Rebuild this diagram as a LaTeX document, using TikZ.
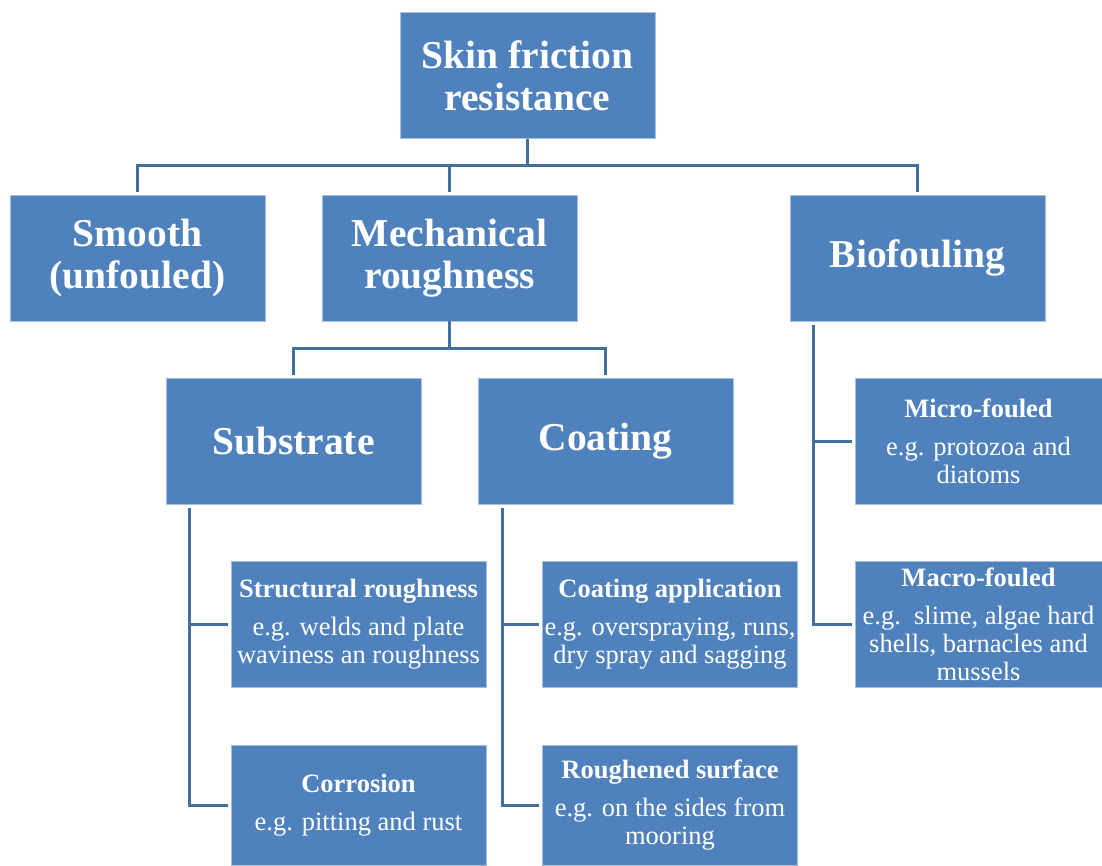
\documentclass[tikz,border=0pt]{standalone}
\usepackage{fontspec}
\setmainfont{Liberation Serif}
\definecolor{boxblue}{HTML}{4F81BD}
\definecolor{boxedge}{HTML}{A7BFDE}
\definecolor{linkblue}{HTML}{41719C}
\begin{document}
\begin{tikzpicture}[x=1pt,y=-1pt,
  box/.style={fill=boxblue,draw=boxedge,line width=0.8pt,text=white,align=center,inner sep=0pt,minimum width=255pt,minimum height=126pt},
  big/.style={box,font=\bfseries\fontsize{39.5}{42}\selectfont},
  small/.style={box,font=\fontsize{26.5}{28}\selectfont},
  link/.style={draw=linkblue,line width=3pt}]
\useasboundingbox (0,0) rectangle (1102,865);
\fill[white] (0,0) rectangle (1102,865);
% level 0
\node[big] (root) at (527.5,75.5) {Skin friction\\resistance};
% level 1
\node[big] (smooth) at (137.5,258) {Smooth\\(unfouled)};
\node[big] (mech) at (449.5,258) {Mechanical\\roughness};
\node[big] (bio) at (917.5,258) {Biofouling};
% level 2
\node[big] (sub) at (293.5,441) {Substrate};
\node[big] (coat) at (605.5,441) {Coating};
% leaves
\node[small,minimum width=247pt] (micro) at (978.5,441.5) {{\bfseries Micro-fouled}\\[10pt]e.g. protozoa and\\diatoms};
\node[small,minimum width=247pt] (macro) at (978.5,624.5) {{\bfseries Macro-fouled}\\[10pt]e.g.\ \ slime, algae hard\\shells, barnacles and\\mussels};
\node[small] (struct) at (358.5,624.5) {{\bfseries Structural roughness}\\[10pt]e.g. welds and plate\\waviness an roughness};
\node[small,minimum height=120pt] (corr) at (358.5,805) {{\bfseries Corrosion}\\[10pt]e.g. pitting and rust};
\node[small] (capp) at (670,624.5) {{\bfseries Coating application}\\[10pt]e.g. overspraying, runs,\\dry spray and sagging};
\node[small,minimum height=120pt] (rough) at (670,805) {{\bfseries Roughened surface}\\[10pt]e.g. on the sides from\\mooring};
% connectors
\coordinate (bus1) at (527.5,165);
\draw[link] (root.south) -- (bus1);
\draw[link,shorten >=3pt] (bus1) -| (smooth.north);
\draw[link,shorten >=3pt] (bus1) -| (mech.north);
\draw[link,shorten >=3pt] (bus1) -| (bio.north);
\coordinate (bus2) at (449.5,348);
\draw[link] (mech.south) -- (bus2);
\draw[link,shorten >=3pt] (bus2) -| (sub.north);
\draw[link,shorten >=3pt] (bus2) -| (coat.north);
\draw[link,shorten >=3pt] ([xshift=24pt,yshift=-4pt]bio.south west) |- (micro.west);
\draw[link,shorten >=3pt] ([xshift=24pt,yshift=-4pt]bio.south west) |- (macro.west);
\draw[link,shorten >=3pt] ([xshift=24pt,yshift=-4pt]sub.south west) |- (struct.west);
\draw[link,shorten >=3pt] ([xshift=24pt,yshift=-4pt]sub.south west) |- (corr.west);
\draw[link,shorten >=3pt] ([xshift=25pt,yshift=-4pt]coat.south west) |- (capp.west);
\draw[link,shorten >=3pt] ([xshift=25pt,yshift=-4pt]coat.south west) |- (rough.west);
\end{tikzpicture}
\end{document}
